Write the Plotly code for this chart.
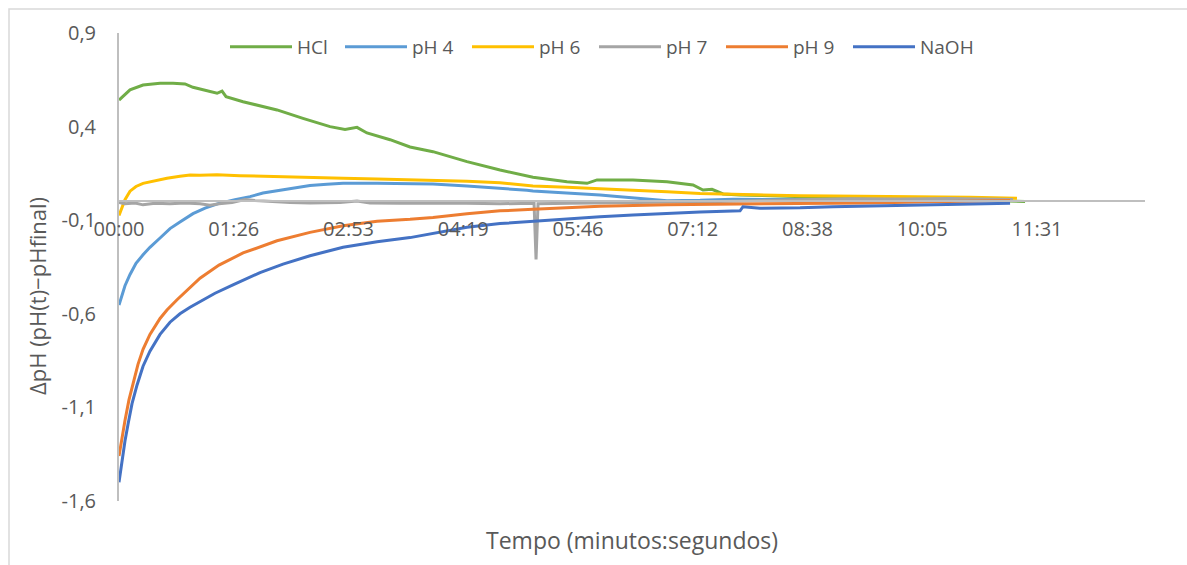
import plotly.graph_objects as go

# ---- data (time in seconds, ΔpH values) ----
hcl_t = [0, 8.3, 18.1, 30.9, 40.7, 49.7, 55.7, 64.8, 73.8, 77.6, 80.6, 93.4, 119.0, 138.5, 158.9,
         170.2, 179.2, 186.7, 204.1, 219.1, 236.4, 262.0, 286.9, 311.7, 337.3, 352.4, 359.9, 387.0,
         412.6, 432.2, 439.7, 446.5, 454.8, 467.6, 512.8, 565.5, 625.7, 682.2]
hcl_v = [0.542, 0.596, 0.622, 0.632, 0.631, 0.628, 0.610, 0.595, 0.578, 0.590, 0.560, 0.533, 0.489,
         0.444, 0.400, 0.385, 0.396, 0.366, 0.330, 0.291, 0.266, 0.213, 0.168, 0.129, 0.106, 0.097,
         0.115, 0.115, 0.106, 0.088, 0.061, 0.065, 0.040, 0.035, 0.025, 0.015, 0.010, 0.000]

ph4_t = [0, 2.3, 4.5, 8.3, 12.8, 18.1, 23.3, 30.9, 38.4, 45.9, 55.7, 64.8, 75.3, 87.3, 98.6, 108.4,
         119.0, 131.0, 143.8, 156.6, 168.7, 194.3, 219.1, 236.4, 262.0, 286.9, 307.2, 311.7, 337.3,
         362.2, 375.0, 399.8, 412.6, 437.5, 462.3, 512.8, 565.5, 612.9, 672.4]
ph4_v = [-0.553, -0.500, -0.450, -0.390, -0.330, -0.285, -0.245, -0.195, -0.145, -0.110, -0.065,
         -0.035, -0.010, 0.010, 0.026, 0.045, 0.058, 0.072, 0.085, 0.092, 0.097, 0.098, 0.097, 0.093,
         0.083, 0.072, 0.060, 0.056, 0.047, 0.035, 0.026, 0.012, 0.004, 0.006, 0.012, 0.010, 0.008,
         0.006, 0.005]

ph6_t = [0, 2.3, 4.5, 8.3, 12.8, 18.1, 27.1, 36.1, 45.9, 53.5, 61.0, 73.8, 91.1, 119.0, 143.8,
         168.7, 194.3, 219.1, 236.4, 262.0, 286.9, 307.2, 311.7, 337.3, 362.2, 387.0, 412.6, 437.5,
         462.3, 487.9, 512.8, 537.6, 565.5, 612.9, 640.8, 676.1]
ph6_v = [-0.075, -0.030, 0.010, 0.055, 0.080, 0.097, 0.112, 0.124, 0.135, 0.142, 0.140, 0.143,
         0.138, 0.132, 0.128, 0.124, 0.120, 0.117, 0.115, 0.108, 0.100, 0.088, 0.083, 0.076, 0.066,
         0.060, 0.052, 0.042, 0.038, 0.032, 0.030, 0.029, 0.027, 0.026, 0.022, 0.017]

ph7_t = [0, 4.5, 12.1, 18.1, 27.1, 38.4, 49.7, 61.0, 68.5, 75.3, 85.1, 94.9, 102.4, 113.7, 128.8,
         143.8, 166.4, 179.2, 189.0, 211.6, 249.2, 286.9, 312.5, 314.0, 315.5, 339.6, 377.2, 422.4,
         452.5, 482.6, 512.8, 550.4, 588.0, 625.7, 673.1]
ph7_v = [-0.005, -0.012, -0.008, -0.018, -0.010, -0.012, -0.008, -0.012, -0.020, -0.012, -0.005,
         0.010, 0.005, 0.000, -0.005, -0.008, -0.005, 0.003, -0.008, -0.010, -0.008, -0.012, -0.010,
         -0.310, -0.012, -0.010, -0.008, -0.003, 0.000, 0.005, 0.012, 0.015, 0.013, 0.016, 0.010]

ph9_t = [0, 2.3, 4.5, 7.5, 10.5, 14.3, 18.1, 23.3, 30.9, 36.1, 43.7, 53.5, 61.0, 75.3, 93.4, 119.0,
         143.8, 168.7, 194.3, 219.1, 236.4, 262.0, 286.9, 311.7, 337.3, 362.2, 412.6, 462.3, 512.8,
         563.2, 612.9, 670.9]
ph9_v = [-1.360, -1.260, -1.170, -1.060, -0.970, -0.870, -0.790, -0.710, -0.625, -0.580, -0.525,
         -0.460, -0.410, -0.340, -0.275, -0.210, -0.165, -0.130, -0.105, -0.095, -0.085, -0.065,
         -0.050, -0.042, -0.035, -0.026, -0.017, -0.015, -0.012, -0.008, -0.002, 0.005]

naoh_t = [0, 2.3, 4.5, 6.8, 9.8, 13.6, 18.1, 23.3, 30.9, 38.4, 45.9, 53.5, 61.0, 72.3, 85.8, 106.2,
          123.5, 143.8, 168.7, 194.3, 219.1, 236.4, 262.0, 286.9, 311.7, 337.3, 362.2, 387.0, 412.6,
          437.5, 467.6, 469.8, 482.6, 512.8, 537.6, 565.5, 612.9, 640.8, 670.9]
naoh_v = [-1.500, -1.380, -1.280, -1.190, -1.080, -0.980, -0.880, -0.800, -0.710, -0.645, -0.600,
          -0.565, -0.535, -0.490, -0.445, -0.380, -0.335, -0.290, -0.245, -0.215, -0.193, -0.170,
          -0.138, -0.118, -0.106, -0.092, -0.081, -0.072, -0.063, -0.056, -0.050, -0.028, -0.036,
          -0.034, -0.028, -0.025, -0.019, -0.016, -0.010]

series_names = ["HCl", "pH 4", "pH 6", "pH 7", "pH 9", "NaOH"]
series_colors = ["#70AD47", "#5B9BD5", "#FFC000", "#A5A5A5", "#ED7D31", "#4472C4"]

x_tickvals = [0, 86.4, 172.8, 259.2, 345.6, 432.0, 518.4, 604.8, 691.2]
x_ticktext = ["00:00", "01:26", "02:53", "04:19", "05:46", "07:12", "08:38", "10:05", "11:31"]
y_tickvals = [-1.6, -1.1, -0.6, -0.1, 0.4, 0.9]
y_ticktext = ["-1,6", "-1,1", "-0,6", "-0,1", "0,4", "0,9"]

xs = [hcl_t, ph4_t, ph6_t, ph7_t, ph9_t, naoh_t]
ys = [hcl_v, ph4_v, ph6_v, ph7_v, ph9_v, naoh_v]

FONT = "Open Sans"
TXT = "#595959"

fig = go.Figure()
for i, (name, col, x, y) in enumerate(zip(series_names, series_colors, xs, ys)):
    fig.add_trace(go.Scatter(x=x, y=y, mode="lines", name=name,
                             legend="legend" if i == 0 else "legend2",
                             line=dict(color=col, width=3)))

W, H = 1187, 565
L, R, T, B = 119, 42, 33, 64
pw, ph = W - L - R, H - T - B

def px2paper_x(px):
    return (px - L) / pw

def py2paper_y(py):
    return (H - B - py) / ph

leg_common = dict(orientation="h", yanchor="top", xanchor="left", y=py2paper_y(28),
                  font=dict(size=19, color=TXT, family=FONT), bgcolor="rgba(0,0,0,0)",
                  itemwidth=62, entrywidth=50, entrywidthmode="pixels")

fig.update_layout(
    width=W, height=H,
    margin=dict(l=L, r=R, t=T, b=B, pad=0, autoexpand=False),
    paper_bgcolor="white", plot_bgcolor="white",
    font=dict(family=FONT, color=TXT, size=19),
    showlegend=True,
    legend=dict(x=px2paper_x(225), **leg_common),
    legend2=dict(x=px2paper_x(340), **leg_common),
    xaxis=dict(range=[0, 772.5], tickvals=x_tickvals, ticktext=x_ticktext, showgrid=False,
               zeroline=False, showline=True, linecolor="#BFBFBF", linewidth=2,
               anchor="free", position=0.64, ticks="", ticklabelstandoff=10,
               tickfont=dict(size=20, color=TXT, family=FONT)),
    yaxis=dict(range=[-1.6, 0.9], tickvals=y_tickvals, ticktext=y_ticktext, showgrid=False,
               zeroline=False, showline=True, linecolor="#BFBFBF", linewidth=2, ticks="",
               ticklabelstandoff=17, tickfont=dict(size=20, color=TXT, family=FONT)),
    annotations=[
        dict(text="Tempo (minutos:segundos)", xref="paper", yref="paper",
             x=px2paper_x(632), y=py2paper_y(540), xanchor="center", yanchor="middle",
             showarrow=False, font=dict(size=23, color=TXT, family=FONT)),
        dict(text="ΔpH (pH(t)−pHfinal)", xref="paper", yref="paper", textangle=-90,
             x=px2paper_x(37), y=py2paper_y(296), xanchor="center", yanchor="middle",
             showarrow=False, font=dict(size=22, color=TXT, family=FONT)),
    ],
    shapes=[dict(type="rect", xref="paper", yref="paper",
                 x0=px2paper_x(9), y0=py2paper_y(575), x1=px2paper_x(1200), y1=py2paper_y(9),
                 line=dict(color="#D9D9D9", width=1.5), fillcolor="rgba(0,0,0,0)", layer="below")],
)

fig.write_html("out.html", config={"displayModeBar": False})
